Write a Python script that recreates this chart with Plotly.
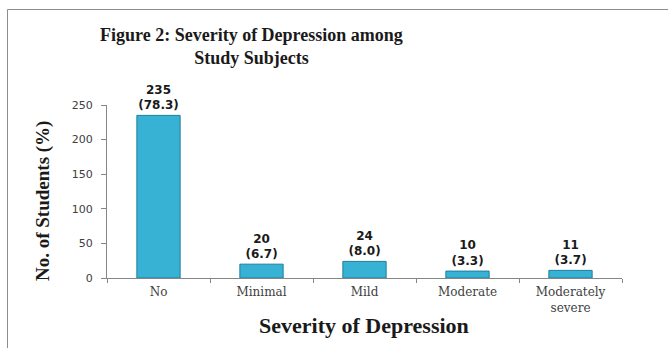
import plotly.graph_objects as go

categories = ["No", "Minimal", "Mild", "Moderate", "Moderately<br>severe"]
counts = [235, 20, 24, 10, 11]
percents = ["78.3", "6.7", "8.0", "3.3", "3.7"]
y_ticks = [0, 50, 100, 150, 200, 250]

labels = [f"{c}<br>({p})" for c, p in zip(counts, percents)]

W, H = 668, 348
L, R, T, B = 107, 622, 105, 278  # plot area in px

def px(x):
    return (x - L) / (R - L)

def py(y):
    return (B - y) / (B - T)

fig = go.Figure()
fig.add_trace(go.Bar(
    x=categories, y=counts, text=labels, textposition="outside",
    textfont=dict(family="DejaVu Sans", size=12, color="#1a1a1a", weight="bold"),
    marker=dict(color="#37B2D5", line=dict(color="#1E7E99", width=1)),
    width=0.42, cliponaxis=False, hoverinfo="skip",
))

fig.update_layout(
    width=W, height=H,
    margin=dict(l=L, r=W - R, t=T, b=H - B),
    paper_bgcolor="white", plot_bgcolor="white",
    showlegend=False,
    xaxis=dict(
        type="category", tickson="boundaries", ticks="outside", ticklen=4,
        tickcolor="#868686", showline=True, linecolor="#868686", linewidth=1,
        showgrid=False, ticklabelstandoff=3,
        tickfont=dict(family="DejaVu Serif", size=12, color="#404040"),
    ),
    yaxis=dict(
        range=[0, 250], tickvals=y_ticks, ticks="outside", ticklen=5,
        tickcolor="#868686", showline=True, linecolor="#868686", linewidth=1,
        showgrid=False, zeroline=False, ticklabelstandoff=6,
        tickfont=dict(family="DejaVu Sans", size=11, color="#404040"),
    ),
    annotations=[
        dict(text="<b>Figure 2: Severity of Depression among<br>Study Subjects</b>",
             x=px(251), y=py(46), xref="paper", yref="paper", showarrow=False,
             font=dict(family="Liberation Serif", size=18, color="#1a1a1a"),
             xanchor="center", yanchor="middle"),
        dict(text="<b>No. of Students (%)</b>", textangle=-90,
             x=px(43), y=py(201), xref="paper", yref="paper", showarrow=False,
             font=dict(family="Liberation Serif", size=19, color="#1a1a1a"),
             xanchor="center", yanchor="middle"),
        dict(text="<b>Severity of Depression</b>",
             x=px(364), y=py(325), xref="paper", yref="paper", showarrow=False,
             font=dict(family="Liberation Serif", size=22, color="#1a1a1a"),
             xanchor="center", yanchor="middle"),
    ],
    shapes=[
        dict(type="path", xref="paper", yref="paper",
             path=f"M {px(7.5)},{py(348)} L {px(7.5)},{py(9.5)} L {px(668)},{py(9.5)}",
             line=dict(color="#8c8c8c", width=1)),
    ],
)

fig.write_html("out.html")
